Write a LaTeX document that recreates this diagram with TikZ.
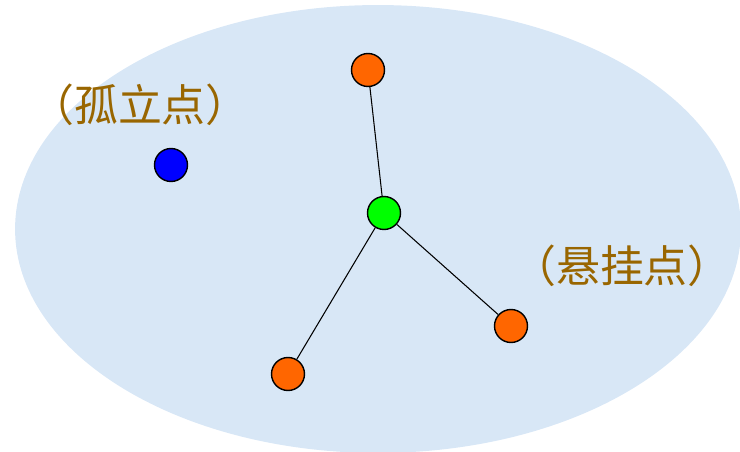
\documentclass[tikz,border=0pt]{standalone}
\usepackage{fontspec}
\newfontfamily\cjk{Noto Sans CJK SC}
\definecolor{paleblue}{RGB}{216, 231, 246}
\definecolor{labelbrown}{RGB}{153, 102, 0}
\definecolor{leaforange}{RGB}{255, 102, 0}
\usepackage{tikz}

\begin{document}
\begin{tikzpicture}[x=0.02cm, y=-0.02cm,
  vertex/.style={circle, draw=black, thick, minimum size=0.66cm, inner sep=0pt},
  marker/.style={text=labelbrown, font=\cjk\fontsize{25}{30}\selectfont}]
\useasboundingbox (0, 0) rectangle (740, 452);
\fill[paleblue] (378, 229) ellipse [x radius=7.26cm, y radius=4.48cm];
% vertices
\node[vertex, fill=leaforange] (top) at (368, 70) {};
\node[vertex, fill=blue] (alone) at (171, 165) {};
\node[vertex, fill=green] (hub) at (384, 213) {};
\node[vertex, fill=leaforange] (right) at (511, 326) {};
\node[vertex, fill=leaforange] (low) at (288, 374) {};
% edges
\draw[semithick] (hub) -- (top);
\draw[semithick] (hub) -- (right);
\draw[semithick] (hub) -- (low);
% labels
\node[marker] (isolabel) at (140, 105) {（孤立点）};
\node[marker] (pendlabel) at (622, 266) {（悬挂点）};
\end{tikzpicture}
\end{document}
